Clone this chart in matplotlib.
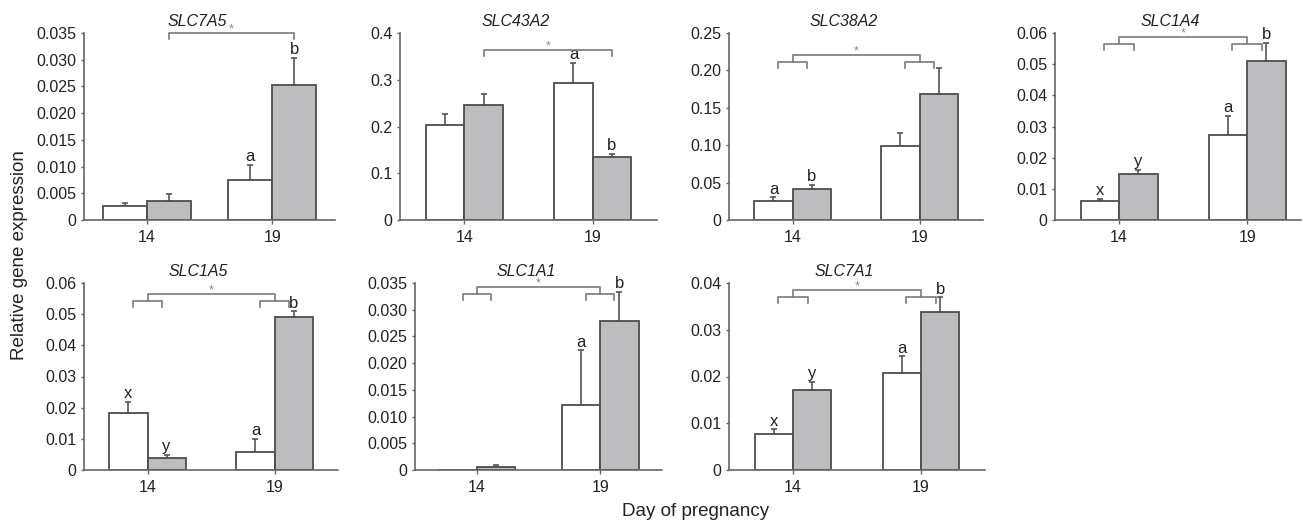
import matplotlib
matplotlib.use('Agg')
import matplotlib.pyplot as plt
import numpy as np

plt.rcParams['font.family'] = ['Liberation Sans', 'DejaVu Sans']

# data (day 14, day 19)
genes = ['SLC7A5', 'SLC43A2', 'SLC38A2', 'SLC1A4', 'SLC1A5', 'SLC1A1', 'SLC7A1']
days = ['14', '19']

white_mean = [[0.0026, 0.0075], [0.204, 0.292], [0.0254, 0.0987], [0.0060, 0.0274],
              [0.0183, 0.0059], [0.0, 0.0121], [0.0076, 0.0208]]
white_se = [[0.0006, 0.0028], [0.022, 0.044], [0.005, 0.017], [0.0008, 0.006],
            [0.0035, 0.0041], [0.0, 0.0103], [0.0011, 0.0035]]
grey_mean = [[0.0036, 0.0253], [0.246, 0.134], [0.0415, 0.169], [0.0149, 0.0509],
             [0.0039, 0.0492], [0.0006, 0.0279], [0.0171, 0.0337]]
grey_se = [[0.0012, 0.005], [0.023, 0.007], [0.0054, 0.034], [0.0013, 0.0059],
           [0.0009, 0.0017], [0.0003, 0.0054], [0.0017, 0.0032]]

white_letters = [['', 'a'], ['', 'a'], ['a', ''], ['x', 'a'], ['x', 'a'], ['', 'a'], ['x', 'a']]
grey_letters = [['', 'b'], ['', 'b'], ['b', ''], ['y', 'b'], ['y', 'b'], ['', 'b'], ['y', 'b']]

y_max = [0.035, 0.4, 0.25, 0.06, 0.06, 0.035, 0.04]
y_step = [0.005, 0.1, 0.05, 0.01, 0.01, 0.005, 0.01]
decimals = [3, 1, 2, 2, 2, 3, 2]

# layout (pixels: left, top, width, height) and bracket settings
W, H = 1309, 525
boxes = [(84, 33, 251, 187), (400, 33, 257, 187), (729, 33, 254, 187), (1055, 33, 246, 187),
         (84, 283, 254, 187), (415, 283, 247, 187), (729, 283, 256, 187)]
x_right = [1.5, 1.5, 1.5, 1.42, 1.5, 1.5, 1.5]
bar_w = [0.35, 0.3, 0.3, 0.3, 0.3, 0.31, 0.3]
nested = [False, False, True, True, True, True, True]
bracket_y = [0.035, 0.364, 0.211, 0.0565, 0.0543, 0.033, 0.0371]

edge = '#4d4d4d'
grey_fill = '#bdbdc0'
line_c = '#7a7a7a'

fig = plt.figure(figsize=(W / 100, H / 100), dpi=100)

for i, gene in enumerate(genes):
    l, t, w, h = boxes[i]
    ax = fig.add_axes([l / W, 1 - (t + h) / H, w / W, h / H])
    x = np.arange(len(days))
    bw = bar_w[i]
    xw = x - bw / 2
    xg = x + bw / 2
    ax.bar(xw, white_mean[i], bw, color='white', edgecolor=edge, linewidth=1.3, zorder=2)
    ax.bar(xg, grey_mean[i], bw, color=grey_fill, edgecolor=edge, linewidth=1.3, zorder=2)
    for xs, m, s, lab in [(xw, white_mean[i], white_se[i], white_letters[i]),
                          (xg, grey_mean[i], grey_se[i], grey_letters[i])]:
        for j in range(len(days)):
            if s[j] > 0:
                ax.errorbar(xs[j], m[j], yerr=[[0], [s[j]]], fmt='none', ecolor='#555555',
                            elinewidth=1.2, capsize=2, capthick=1.2, zorder=1)
            if lab[j]:
                ax.annotate(lab[j], (xs[j], m[j] + s[j]), xytext=(0, 0.5),
                            textcoords='offset points', ha='center', va='bottom',
                            fontsize=12, color='#222222')

    ym = y_max[i]
    ax.set_ylim(0, ym)
    ax.set_xlim(-0.5, x_right[i])
    ticks = np.arange(0, ym + y_step[i] / 2, y_step[i])
    ax.set_yticks(ticks)
    ax.set_yticklabels(['0' if v == 0 else f'{v:.{decimals[i]}f}' for v in ticks])
    ax.set_xticks(x)
    ax.set_xticklabels(days)
    ax.tick_params(axis='both', labelsize=11.5, colors='#666666', labelcolor='#222222',
                   length=2, width=1)
    ax.tick_params(axis='x', length=3, pad=4)
    for sp in ['top', 'right']:
        ax.spines[sp].set_visible(False)
    for sp in ['left', 'bottom']:
        ax.spines[sp].set_color('#666666')
        ax.spines[sp].set_linewidth(1.2)

    # brackets
    px = ym / h
    lvl = bracket_y[i]
    leg = 6 * px
    kw = dict(color=line_c, lw=1.2, clip_on=False, zorder=3)
    if nested[i]:
        for c in x:
            ax.plot([c - 0.115, c - 0.115, c + 0.115, c + 0.115],
                    [lvl - leg, lvl, lvl, lvl - leg], **kw)
        top = lvl + 7 * px
        ax.plot([0, 0, 1, 1], [lvl, top, top, lvl], **kw)
        xa, xb = 0, 1
    else:
        top = lvl
        xa, xb = xg[0], xg[1]
        ax.plot([xa, xa, xb, xb], [top - leg, top, top, top - leg], **kw)
    ax.annotate('*', ((xa + xb) / 2, top), xytext=(0, 2.6), textcoords='offset points',
                ha='center', va='center', fontsize=9, color='#888888',
                annotation_clip=False)

    ax.annotate(gene, (0.4, 1), xycoords=('data', 'axes fraction'), xytext=(0, 8),
                textcoords='offset points', ha='center', va='center',
                fontsize=11.5, style='italic', color='#222222', annotation_clip=False)

fig.text(20 / W, 1 - 255 / H, 'Relative gene expression', rotation=90,
         ha='center', va='center', fontsize=13.5, color='#222222')
fig.text(696 / W, 1 - 512 / H, 'Day of pregnancy', ha='center', va='center',
         fontsize=13.5, color='#222222')

fig.savefig('out.png', dpi=100)
